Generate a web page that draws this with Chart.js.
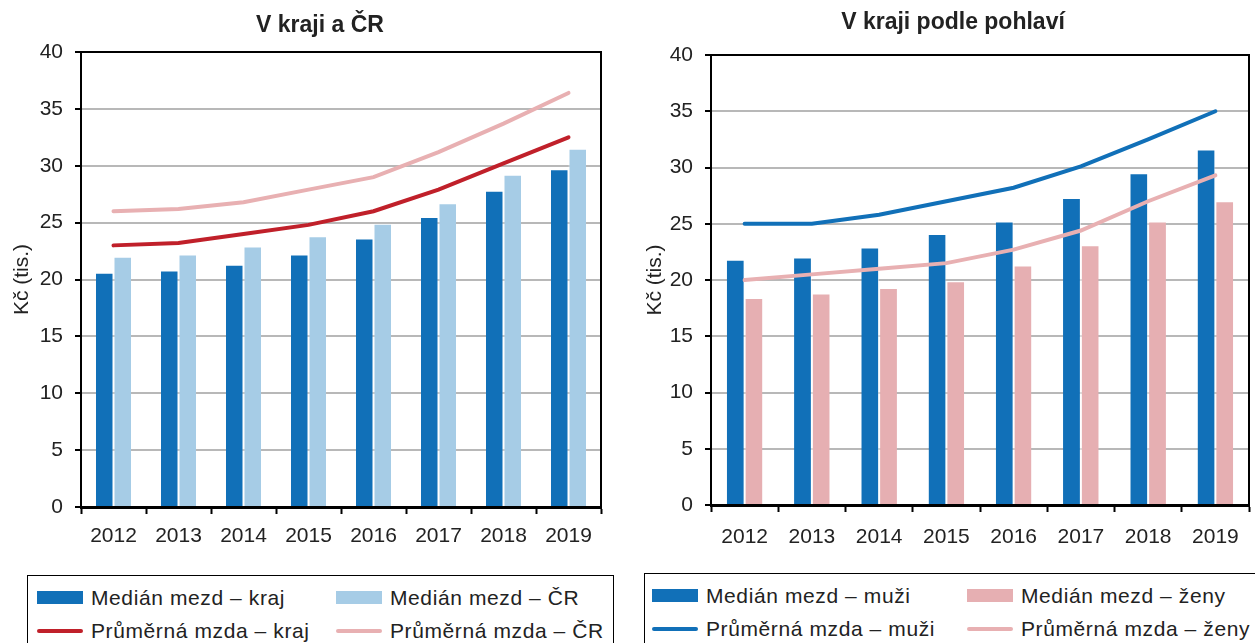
<!DOCTYPE html>
<html>
<head>
<meta charset="utf-8">
<script src="https://cdn.jsdelivr.net/npm/chart.js@4.4.1/dist/chart.umd.min.js"></script>
<style>
  html, body { margin:0; padding:0; width:1255px; height:643px; overflow:hidden; background:#fff; }
  body { position:relative; font-family:"Liberation Sans", Arial, sans-serif; color:#222; }
  .cw { position:absolute; }
  .legend { position:absolute; border:1.5px solid #000; box-sizing:border-box; background:#fff; }
  .li { position:absolute; font-size:21px; letter-spacing:0.6px; line-height:22px; white-space:nowrap; color:#222; }
  .sw { position:absolute; }
</style>
</head>
<body>
<div class="cw" style="left:10px;top:0;width:620px;height:560px;"><canvas id="c1" width="620" height="560"></canvas></div>
<div class="cw" style="left:640px;top:0;width:630px;height:560px;"><canvas id="c2" width="630" height="560"></canvas></div>
<div class="legend" id="lg1" style="left:27px;top:575px;width:587px;height:80px;"></div>
<div class="legend" id="lg2" style="left:644px;top:573px;width:620px;height:80px;"></div>
<script>
// ---- data ----
const years = ['2012','2013','2014','2015','2016','2017','2018','2019'];
const yTicks = [0,5,10,15,20,25,30,35,40];

const title1 = 'V kraji a ČR';
const medianKraj = [20.6, 20.8, 21.3, 22.2, 23.6, 25.5, 27.8, 29.7];
const medianCR   = [22.0, 22.2, 22.9, 23.8, 24.9, 26.7, 29.2, 31.5];
const prumerKraj = [23.0, 23.2, 24.0, 24.8, 26.0, 27.9, 30.2, 32.5];
const prumerCR   = [26.0, 26.2, 26.8, 27.9, 29.0, 31.2, 33.7, 36.4];

const title2 = 'V kraji podle pohlaví';
const medianMuzi = [21.8, 22.0, 22.9, 24.1, 25.2, 27.3, 29.5, 31.6];
const medianZeny = [18.4, 18.8, 19.3, 19.9, 21.3, 23.1, 25.2, 27.0];
const prumerMuzi = [25.0, 25.0, 25.8, 27.0, 28.2, 30.1, 32.5, 35.0];
const prumerZeny = [20.0, 20.5, 21.0, 21.5, 22.7, 24.4, 27.0, 29.3];

const labels1 = ['Medián mezd – kraj','Medián mezd – ČR','Průměrná mzda – kraj','Průměrná mzda – ČR'];
const labels2 = ['Medián mezd – muži','Medián mezd – ženy','Průměrná mzda – muži','Průměrná mzda – ženy'];
const yTitle = 'Kč (tis.)';

// ---- styles ----
const C = { dark:'#1170b8', light:'#a6cce6', red:'#c0202a', pink:'#e8b0b2', zeny:'#e6afb2' };
const FONT = '"Liberation Sans", Arial, sans-serif';
const TXT = '#222';

const framePlugin = {
  id:'frame',
  afterDraw(chart){
    const a = chart.chartArea, ctx = chart.ctx;
    ctx.save();
    ctx.strokeStyle = '#000';
    ctx.lineWidth = 2;
    ctx.beginPath();
    ctx.moveTo(a.left, a.top); ctx.lineTo(a.right, a.top); ctx.lineTo(a.right, a.bottom);
    ctx.stroke();
    ctx.restore();
  }
};

// draws the chart title centred at a given point of the canvas
const titleAtPlugin = {
  id:'titleAt',
  afterDraw(chart, args, o){
    const ctx = chart.ctx;
    ctx.save();
    ctx.font = 'bold ' + o.size + 'px ' + FONT;
    ctx.fillStyle = TXT;
    ctx.textAlign = 'center';
    ctx.textBaseline = 'middle';
    ctx.fillText(o.text, o.x, o.y);
    ctx.restore();
  }
};

function makeChart(id, title, titlePos, labels, bars, lines, colors, opts){
  const datasets = [
    { type:'bar', label:labels[0], data:bars[0], backgroundColor:colors[0], order:2,
      borderColor:'rgba(255,255,255,0.6)', borderWidth:{left:0,right:1,top:1,bottom:0},
      categoryPercentage:opts.cat, barPercentage:1 },
    { type:'bar', label:labels[1], data:bars[1], backgroundColor:colors[1], order:2,
      borderColor:'rgba(255,255,255,0.6)', borderWidth:{left:1,right:0,top:1,bottom:0},
      categoryPercentage:opts.cat, barPercentage:1 },
    { type:'line', label:labels[2], data:lines[0], borderColor:colors[2], borderWidth:4,
      pointRadius:0, tension:0, fill:false, order:0, borderCapStyle:'round' },
    { type:'line', label:labels[3], data:lines[1], borderColor:colors[3], borderWidth:4,
      pointRadius:0, tension:0, fill:false, order:1, borderCapStyle:'round' }
  ];
  return new Chart(document.getElementById(id), {
    data:{ labels:years, datasets },
    options:{
      responsive:false, animation:false,
      layout:{ padding:{ left:0, right:opts.padRight, top:opts.padTop, bottom:0 } },
      plugins:{
        legend:{ display:false },
        tooltip:{ enabled:false },
        title:{ display:false },
        titleAt:{ text:title, x:titlePos.x, y:titlePos.y, size:23 }
      },
      scales:{
        x:{
          grid:{ display:true, drawOnChartArea:false, drawTicks:true, tickLength:7, tickColor:'#000', tickWidth:2, offset:true },
          border:{ display:true, color:'#000', width:3 },
          ticks:{ color:TXT, font:{ family:FONT, size:21 }, padding:opts.xpad, maxRotation:0 },
          afterFit(s){ s.height = opts.xh; }
        },
        y:{
          min:0, max:40,
          afterBuildTicks(s){ s.ticks = yTicks.map(v => ({ value:v })); },
          grid:{ color:'#b8b8b8', lineWidth:2, tickColor:'#000', tickLength:6, tickWidth:2 },
          border:{ display:true, color:'#000', width:2 },
          ticks:{ color:TXT, font:{ family:FONT, size:21 }, padding:12 },
          title:{ display:true, text:yTitle, color:TXT, font:{ family:FONT, size:21 }, padding:{ top:opts.ytPad, bottom:0 } },
          afterFit(s){ s.width = 71; }
        }
      }
    },
    plugins:[framePlugin, titleAtPlugin]
  });
}

makeChart('c1', title1, { x:310, y:26 }, labels1,
  [medianKraj, medianCR], [prumerKraj, prumerCR],
  [C.dark, C.light, C.red, C.pink], { cat:0.54, padRight:29, padTop:52, xh:53, ytPad:0, xpad:10 });

makeChart('c2', title2, { x:313, y:23 }, labels2,
  [medianMuzi, medianZeny], [prumerMuzi, prumerZeny],
  [C.dark, C.zeny, C.dark, C.pink], { cat:0.53, padRight:21, padTop:55, xh:55, ytPad:3, xpad:13 });

// ---- HTML legends ----
function buildLegend(elId, labels, colors, cols){
  const el = document.getElementById(elId);
  const rows = [11, 44];
  labels.forEach((t, i) => {
    const r = i < 2 ? 0 : 1, c = i % 2;
    const sw = document.createElement('div');
    sw.className = 'sw';
    const isBar = i < 2;
    sw.style.left = cols[c] + 'px';
    sw.style.width = '46px';
    sw.style.background = colors[i];
    if (isBar) { sw.style.top = (rows[r] + 4) + 'px'; sw.style.height = '13px'; }
    else { sw.style.top = (rows[r] + 9) + 'px'; sw.style.height = '4px'; sw.style.borderRadius = '2px'; }
    el.appendChild(sw);
    const tx = document.createElement('div');
    tx.className = 'li';
    tx.textContent = t;
    tx.style.left = (cols[c] + 54) + 'px';
    tx.style.top = rows[r] + 'px';
    el.appendChild(tx);
  });
}
buildLegend('lg1', labels1, [C.dark, C.light, C.red, C.pink], [9, 308]);
buildLegend('lg2', labels2, [C.dark, C.zeny, C.dark, C.pink], [7, 322]);
</script>
</body>
</html>
